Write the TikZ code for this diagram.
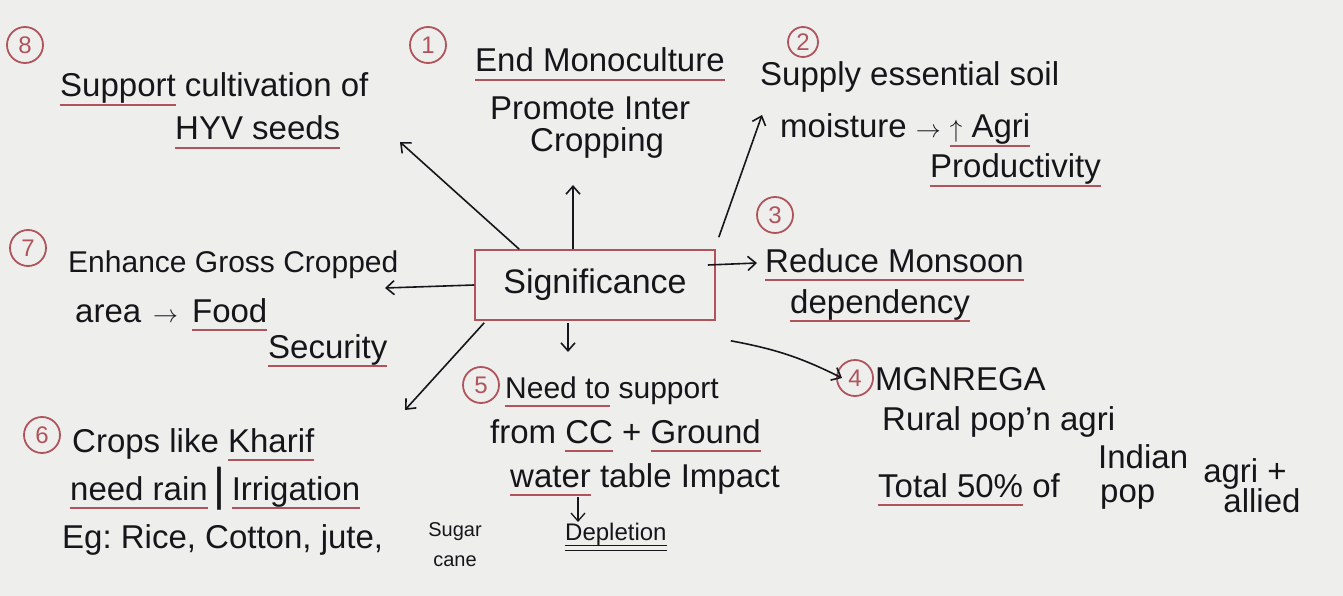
\documentclass[tikz,border=0pt]{standalone}
\usepackage{fontspec}
\setmainfont{Liberation Sans}
\usetikzlibrary{arrows.meta}
\frenchspacing
\definecolor{paper}{RGB}{238,239,237}
\definecolor{ink}{RGB}{22,22,26}
\definecolor{pen}{RGB}{176,84,92}
% red pen underline, double ink underline
\newsavebox\ulbox
\newcommand\redul[1]{\sbox\ulbox{#1}\rlap{\textcolor{pen}{\rule[-9pt]{\wd\ulbox}{1.8pt}}}\usebox\ulbox}
\newcommand\dul[1]{\sbox\ulbox{#1}\rlap{\rule[-6pt]{\wd\ulbox}{1.5pt}}\rlap{\rule[-11pt]{\wd\ulbox}{1.5pt}}\usebox\ulbox}
\tikzset{
  txt/.style={anchor=base west,inner sep=0pt,text=ink,font=\fontsize{33}{38}\selectfont},
  num/.style={circle,draw=pen,line width=1.8pt,text=pen,inner sep=0pt,minimum size=36pt,font=\fontsize{24}{24}\selectfont},
  arr/.style={->,line width=1.6pt,draw=ink},
}
\begin{document}
\begin{tikzpicture}[x=1pt,y=-1pt,>={Straight Barb[length=8pt,width=14pt]}]
		\fill[paper] (0,0) rectangle (1343,596);
		\useasboundingbox (0,0) rectangle (1343,596);
		% Centre box
		\node[draw=pen,line width=1.6pt,minimum width=240pt,minimum height=70pt,text=ink,font=\fontsize{34}{38}\selectfont] (sig) at (595,285) {Significance};
		% 1 Monoculture
		\node[num] (n1) at (428,45) {1};
		\node[txt] (t1a) at (475,72) {\redul{End Monoculture}};
		\node[txt] (t1b) at (490,120) {Promote Inter};
		\node[txt] (t1c) at (530,152) {Cropping};
		% 2 Soil moisture
		\node[num,minimum size=30pt] (n2) at (803,42) {2};
		\node[txt] (t2a) at (760,86) {Supply essential soil};
		\node[txt] (t2b) at (780,138) {moisture $\rightarrow$ \redul{$\uparrow$ Agri}};
		\node[txt] (t2c) at (930,178) {\redul{Productivity}};
		% 3 Monsoon
		\node[num] (n3) at (775,215) {3};
		\node[txt] (t3a) at (765,272) {\redul{Reduce Monsoon}};
		\node[txt] (t3b) at (790,313) {\redul{dependency}};
		% 4 MGNREGA
		\node[num] (n4) at (855,378) {4};
		\node[txt] (t4a) at (875,390) {MGNREGA};
		\node[txt] (t4b) at (882,430) {Rural pop'n agri};
		\node[txt] (t4c) at (878,497) {\redul{Total 50\%} of};
		\node[txt] (t4d) at (1098,468) {Indian};
		\node[txt] (t4e) at (1100,502) {pop};
		\node[txt,anchor=base] (t4f) at (1245,482) {agri +};
		\node[txt,anchor=base] (t4g) at (1262,512) {allied};
		% 5 Ground water
		\node[num] (n5) at (481,385) {5};
		\node[txt,font=\fontsize{30}{36}\selectfont] (t5a) at (505,398) {\redul{Need to} support};
		\node[txt] (t5b) at (490,443) {from \redul{CC} + \redul{Ground}};
		\node[txt] (t5c) at (510,487) {\redul{water} table Impact};
		\node[txt,font=\fontsize{24}{24}\selectfont] (t5d) at (565,540) {\dul{Depletion}};
		% 6 Kharif crops
		\node[num] (n6) at (42,435) {6};
		\node[txt] (t6a) at (72,452) {Crops like \redul{Kharif}};
		\node[txt] (t6b) at (70,500) {\redul{need rain}\hspace{6pt}{\fontsize{46}{46}\selectfont |}\hspace{6pt}\redul{Irrigation}};
		\node[txt] (t6c) at (62,548) {Eg: Rice, Cotton, jute,};
		\node[txt,anchor=base,align=center,font=\fontsize{20}{30}\selectfont] (t6d) at (455,566) {Sugar\\cane};
		% 7 Gross cropped area
		\node[num] (n7) at (28,248) {7};
		\node[txt,font=\fontsize{30}{36}\selectfont] (t7a) at (68,272) {Enhance Gross Cropped};
		\node[txt] (t7b) at (75,322) {area\hspace{12pt}$\rightarrow$\hspace{14pt}\redul{Food}};
		\node[txt] (t7c) at (268,358) {\redul{Security}};
		% 8 HYV seeds
		\node[num] (n8) at (25,45) {8};
		\node[txt] (t8a) at (60,97) {\redul{Support} cultivation of};
		\node[txt] (t8b) at (175,140) {\redul{HYV seeds}};
		% arrow tips
		\coordinate (e1) at (573,185);
		\coordinate (e2) at (762,115);
		\coordinate (e3) at (757,263);
		\coordinate (e4) at (842,378);
		\coordinate (e5) at (568,352);
		\coordinate (e6) at (405,410);
		\coordinate (e7) at (385,288);
		\coordinate (e8) at (400,142);
		\coordinate (ed) at (578,522);
		% Arrows out of the box
		\draw[arr] ([xshift=-22pt]sig.north) -- (e1);
		\draw[arr] ([xshift=3pt,yshift=12pt]sig.north east) -- (e2);
		\draw[arr] ([xshift=-8pt,yshift=20pt]sig.east) -- (e3);
		\draw[arr] ([xshift=15pt,yshift=-20pt]sig.south east) to[bend left=8] (e4);
		\draw[arr] ([xshift=-27pt,yshift=-2pt]sig.south) -- (e5);
		\draw[arr] ([xshift=10pt,yshift=-2pt]sig.south west) -- (e6);
		\draw[arr] (sig.west) -- (e7);
		\draw[arr] ([xshift=45pt]sig.north west) -- (e8);
		\draw[arr,line width=1.3pt] ([xshift=68pt,yshift=-10pt]t5c.base west) -- (ed);
\end{tikzpicture}
\end{document}
